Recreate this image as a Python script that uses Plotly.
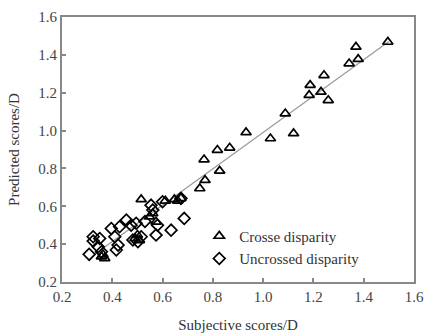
import plotly.graph_objects as go

crossed_x = [0.357, 0.370, 0.363, 0.490, 0.508, 0.500, 0.515, 0.548, 0.561, 0.574, 0.611, 0.660,
             0.647, 0.673, 0.748, 0.769, 0.765, 0.827, 0.818, 0.867, 0.932, 1.029, 1.088, 1.121,
             1.183, 1.187, 1.230, 1.259, 1.242, 1.342, 1.378, 1.369, 1.496]
crossed_y = [0.334, 0.325, 0.345, 0.430, 0.420, 0.448, 0.636, 0.545, 0.562, 0.518, 0.629, 0.629,
             0.636, 0.642, 0.694, 0.738, 0.847, 0.787, 0.897, 0.909, 0.990, 0.958, 1.090, 0.985,
             1.187, 1.240, 1.204, 1.160, 1.292, 1.354, 1.377, 1.442, 1.468]

uncrossed_x = [0.308, 0.324, 0.324, 0.350, 0.344, 0.357, 0.396, 0.410, 0.416, 0.423, 0.429, 0.456,
               0.475, 0.495, 0.482, 0.502, 0.515, 0.554, 0.561, 0.580, 0.574, 0.634, 0.686, 0.600,
               0.673, 0.530]
uncrossed_y = [0.346, 0.439, 0.416, 0.430, 0.386, 0.360, 0.483, 0.439, 0.369, 0.395, 0.492, 0.527,
               0.500, 0.510, 0.422, 0.413, 0.439, 0.606, 0.580, 0.500, 0.448, 0.474, 0.536, 0.624,
               0.642, 0.520]

fit_x = [0.33, 1.50]
fit_y = [0.347, 1.470]

tick_vals = [0.2, 0.4, 0.6, 0.8, 1.0, 1.2, 1.4, 1.6]
tick_text = ["0.2", "0.4", "0.6", "0.8", "1.0", "1.2", "1.4", "1.6"]

font_family = "Liberation Serif, Times New Roman, serif"

fig = go.Figure()
fig.add_trace(go.Scatter(x=fit_x, y=fit_y, mode="lines",
                         line=dict(color="#999999", width=1.2), showlegend=False))
fig.add_trace(go.Scatter(x=crossed_x, y=crossed_y, mode="markers", name="Crosse disparity",
                         marker=dict(symbol="triangle-up-open", size=9, color="black",
                                     line=dict(width=1.7, color="black"))))
fig.add_trace(go.Scatter(x=uncrossed_x, y=uncrossed_y, mode="markers", name="Uncrossed disparity",
                         marker=dict(symbol="diamond-open", size=9, color="black",
                                     line=dict(width=1.7, color="black"))))

axis_common = dict(range=[0.2, 1.6], tickvals=tick_vals, ticktext=tick_text,
                   showgrid=False, zeroline=False, showline=True, linecolor="#888888",
                   linewidth=2, mirror=True, ticks="inside", ticklen=4, tickwidth=1.5,
                   tickcolor="#888888", automargin=False,
                   tickfont=dict(size=15, color="#444444", family=font_family))

fig.update_layout(
    width=428, height=335,
    margin=dict(l=62, r=14, t=17, b=53),
    paper_bgcolor="white", plot_bgcolor="white",
    font=dict(family=font_family, color="#333333"),
    xaxis=dict(**axis_common, title=dict(text="Subjective scores/D", font=dict(size=15))),
    yaxis=dict(**axis_common, title=dict(text="Predicted scores/D", font=dict(size=15))),
    legend=dict(x=0.39, y=0.235, xanchor="left", yanchor="top", bgcolor="rgba(0,0,0,0)",
                font=dict(size=15, color="#333333", family=font_family), itemwidth=30,
                tracegroupgap=0),
)

fig.write_html("out.html")
